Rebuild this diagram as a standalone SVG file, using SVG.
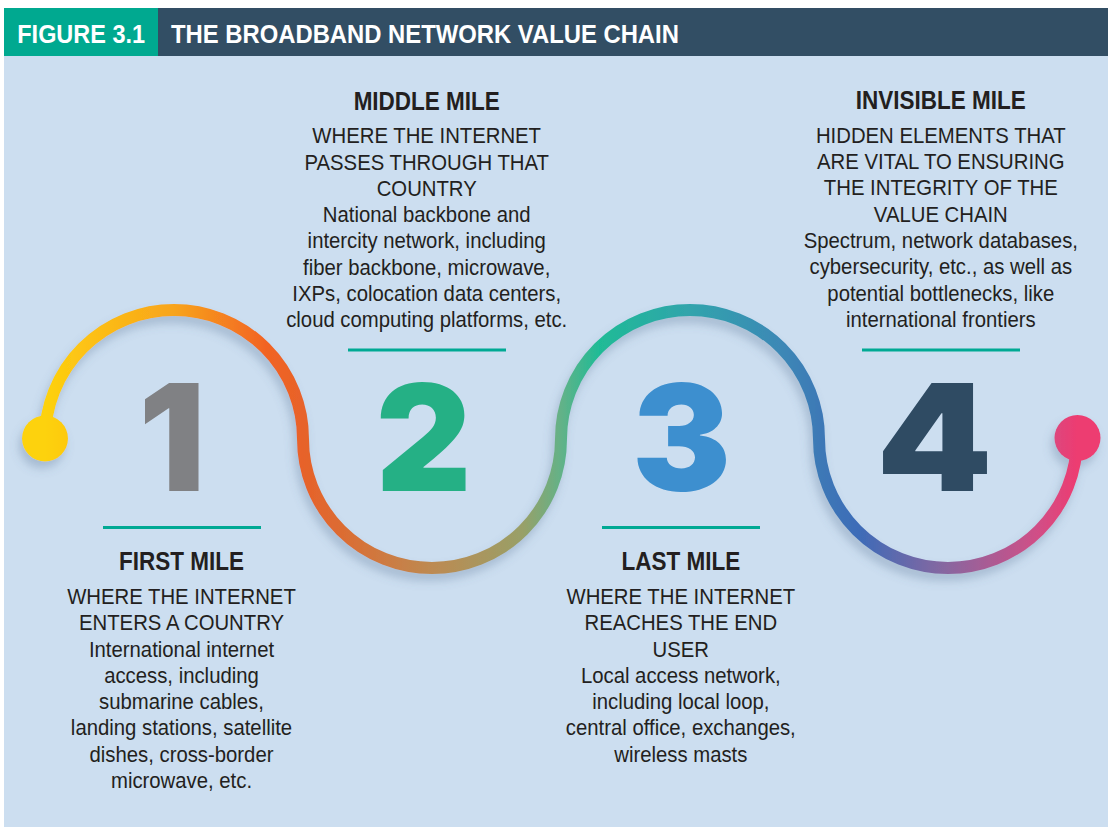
<svg xmlns="http://www.w3.org/2000/svg" width="1108" height="827" viewBox="0 0 1108 827">
  <style>
    .hdr { font-family: "Liberation Sans", Arial, sans-serif; font-weight: bold; font-size: 26.5px; fill: #ffffff; }
    .digit { font-family: Inter, Roboto, "Liberation Sans", sans-serif; font-weight: 900; font-size: 148px; text-anchor: middle; }
    .title { font-family: "Liberation Sans", Arial, sans-serif; font-weight: bold; font-size: 25px; fill: #231f20; text-anchor: middle; }
    .body text { font-family: "Liberation Sans", Arial, sans-serif; font-size: 21.5px; fill: #231f20; text-anchor: middle; }
    .rule { stroke: #00a994; stroke-width: 3; }
  </style>
  <defs>
    <linearGradient id="chainGrad" gradientUnits="userSpaceOnUse" x1="45" y1="0" x2="1077" y2="0">
      <stop offset="0" stop-color="#fdd20d"/>
      <stop offset="0.0368" stop-color="#fdc314"/>
      <stop offset="0.125" stop-color="#f8a41c"/>
      <stop offset="0.2132" stop-color="#f26423"/>
      <stop offset="0.25" stop-color="#e7622a"/>
      <stop offset="0.2868" stop-color="#dc6c32"/>
      <stop offset="0.375" stop-color="#bd8a52"/>
      <stop offset="0.4632" stop-color="#98a068"/>
      <stop offset="0.5" stop-color="#63b288"/>
      <stop offset="0.5368" stop-color="#1fbb96"/>
      <stop offset="0.625" stop-color="#31a4ac"/>
      <stop offset="0.7132" stop-color="#3c88b6"/>
      <stop offset="0.75" stop-color="#3c79b6"/>
      <stop offset="0.7868" stop-color="#3c6cb8"/>
      <stop offset="0.875" stop-color="#8a669f"/>
      <stop offset="0.9632" stop-color="#d24e86"/>
      <stop offset="1" stop-color="#ed3c71"/>
    </linearGradient>
    <filter id="softShadow" x="-10%" y="-20%" width="120%" height="140%">
      <feGaussianBlur in="SourceAlpha" stdDeviation="5"/>
      <feOffset dx="-3" dy="7" result="blur"/>
      <feFlood flood-color="#4f6a8c" flood-opacity="0.3"/>
      <feComposite in2="blur" operator="in"/>
      <feMerge>
        <feMergeNode/>
        <feMergeNode in="SourceGraphic"/>
      </feMerge>
    </filter>
  </defs>

  <!-- panel -->
  <rect x="0" y="0" width="1108" height="827" fill="#ffffff"/>
  <rect x="4" y="56" width="1104" height="771" fill="#ccdef0"/>

  <!-- header bar -->
  <g id="header">
    <rect x="4" y="8" width="154" height="48" fill="#00a990"/>
    <rect x="158" y="8" width="950" height="48" fill="#324e64"/>
    <text class="hdr" transform="translate(17.3 43.3) scale(0.885 1)">FIGURE 3.1</text>
    <text class="hdr" transform="translate(171 43.3) scale(0.9 1)">THE BROADBAND NETWORK VALUE CHAIN</text>
  </g>

  <!-- the wave joining the four miles -->
  <g id="connectors" filter="url(#softShadow)">
    <path d="M45,439 A129,129 0 0 1 303,439 A129,129 0 0 0 561,439 A129,129 0 0 1 819,439 A129,129 0 0 0 1077,439"
          fill="none" stroke="url(#chainGrad)" stroke-width="12"/>
    <circle cx="45" cy="438.5" r="23" fill="url(#chainGrad)"/>
    <circle cx="1077.5" cy="438" r="23" fill="url(#chainGrad)"/>
  </g>

  <g id="node-first-mile">
    <text class="digit" x="172" y="491" fill="#808184">1</text>
    <line class="rule" x1="103" y1="527.5" x2="261" y2="527.5"/>
    <g transform="translate(181.5 0)">
      <text class="title" transform="scale(0.9 1)" x="0" y="570">FIRST MILE</text>
      <g class="body" transform="scale(0.945 1)">
        <text x="0" y="604">WHERE THE INTERNET</text>
        <text x="0" y="630.3">ENTERS A COUNTRY</text>
        <text x="0" y="656.6">International internet</text>
        <text x="0" y="682.9">access, including</text>
        <text x="0" y="709.2">submarine cables,</text>
        <text x="0" y="735.5">landing stations, satellite</text>
        <text x="0" y="761.8">dishes, cross-border</text>
        <text x="0" y="788.1">microwave, etc.</text>
      </g>
    </g>
  </g>

  <g id="node-middle-mile">
    <text class="digit" x="423.5" y="491" fill="#25b085">2</text>
    <line class="rule" x1="348" y1="350" x2="506" y2="350"/>
    <g transform="translate(426.7 0)">
      <text class="title" transform="scale(0.9 1)" x="0" y="110">MIDDLE MILE</text>
      <g class="body" transform="scale(0.945 1)">
        <text x="0" y="143.3">WHERE THE INTERNET</text>
        <text x="0" y="169.6">PASSES THROUGH THAT</text>
        <text x="0" y="195.9">COUNTRY</text>
        <text x="0" y="222.2">National backbone and</text>
        <text x="0" y="248.5">intercity network, including</text>
        <text x="0" y="274.8">fiber backbone, microwave,</text>
        <text x="0" y="301.1">IXPs, colocation data centers,</text>
        <text x="0" y="327.4">cloud computing platforms, etc.</text>
      </g>
    </g>
  </g>

  <g id="node-last-mile">
    <text class="digit" x="681.5" y="491" fill="#3d8fcf">3</text>
    <line class="rule" x1="602" y1="527.5" x2="760" y2="527.5"/>
    <g transform="translate(680.8 0)">
      <text class="title" transform="scale(0.9 1)" x="0" y="570">LAST MILE</text>
      <g class="body" transform="scale(0.945 1)">
        <text x="0" y="604">WHERE THE INTERNET</text>
        <text x="0" y="630.3">REACHES THE END</text>
        <text x="0" y="656.6">USER</text>
        <text x="0" y="682.9">Local access network,</text>
        <text x="0" y="709.2">including local loop,</text>
        <text x="0" y="735.5">central office, exchanges,</text>
        <text x="0" y="761.8">wireless masts</text>
      </g>
    </g>
  </g>

  <g id="node-invisible-mile">
    <text class="digit" transform="translate(934.5 491) scale(1.12 1)" x="0" y="0" fill="#2f4b63">4</text>
    <line class="rule" x1="862" y1="350" x2="1020" y2="350"/>
    <g transform="translate(940.8 0)">
      <text class="title" transform="scale(0.9 1)" x="0" y="109.5">INVISIBLE MILE</text>
      <g class="body" transform="scale(0.945 1)">
        <text x="0" y="142.8">HIDDEN ELEMENTS THAT</text>
        <text x="0" y="169.1">ARE VITAL TO ENSURING</text>
        <text x="0" y="195.4">THE INTEGRITY OF THE</text>
        <text x="0" y="221.7">VALUE CHAIN</text>
        <text x="0" y="248">Spectrum, network databases,</text>
        <text x="0" y="274.3">cybersecurity, etc., as well as</text>
        <text x="0" y="300.6">potential bottlenecks, like</text>
        <text x="0" y="326.9">international frontiers</text>
      </g>
    </g>
  </g>
</svg>
